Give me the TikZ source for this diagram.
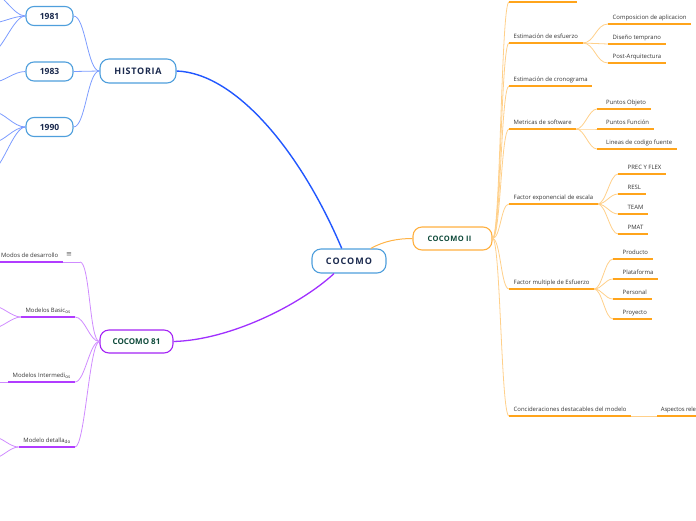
\documentclass[tikz,border=0pt]{standalone}
\usepackage{fontspec}
\setmainfont{Open Sans}
\newfontfamily\symfont{DejaVu Sans}
\definecolor{navy}{HTML}{1B2A4E}
\definecolor{greentxt}{HTML}{0E4A3A}
\definecolor{bborder}{HTML}{4F9FDC}
\definecolor{bmain}{HTML}{2157FF}
\definecolor{blight}{HTML}{7C9CFF}
\definecolor{pmain}{HTML}{A030FF}
\definecolor{pborder}{HTML}{A424F5}
\definecolor{pstrong}{HTML}{B13CFF}
\definecolor{plight}{HTML}{CF8BFF}
\definecolor{oborder}{HTML}{FFB040}
\definecolor{omain}{HTML}{FFB347}
\definecolor{ostrong}{HTML}{FFA41B}
\definecolor{olight}{HTML}{FFD08A}
\definecolor{txt}{HTML}{333333}
\newcommand\smallend[1]{{\fontsize{4.6}{5}\selectfont\raisebox{-1pt}{#1}}}
\begin{document}
\begin{tikzpicture}[x=1pt,y=-1pt,
  pill/.style={draw, fill=white, line width=1.1pt, rounded corners=9pt, inner sep=0pt},
  bluepill/.style={pill, draw=bborder, text=navy},
  leafR/.style={anchor=south west, inner xsep=4.5pt, inner ysep=2.8pt, text height=4.4pt, text depth=1.4pt, font=\fontsize{5.95}{6.5}\selectfont, text=txt},
  leafL/.style={leafR, anchor=south east},
  ostr/.style={draw=ostrong, line width=1.8pt},
  olig/.style={draw=olight, line width=0.8pt},
  pstr/.style={draw=pstrong, line width=1.8pt},
  plig/.style={draw=plight, line width=0.8pt},
  blig/.style={draw=blight, line width=0.8pt}
]
\useasboundingbox (0,0) rectangle (696,520);
\clip (0,0) rectangle (696,520);

% ---------- main nodes
\node[bluepill, minimum width=74pt, minimum height=24pt, font=\bfseries\fontsize{9}{10}\selectfont\addfontfeature{LetterSpace=11}] (c) at (349,261) {COCOMO};
\node[bluepill, minimum width=76pt, minimum height=24pt, font=\bfseries\fontsize{9}{10}\selectfont\addfontfeature{LetterSpace=8}] (h) at (138,71) {HISTORIA};
\node[bluepill, rounded corners=8pt, minimum width=47pt, minimum height=19pt, font=\bfseries\fontsize{8.5}{9}\selectfont] (y1) at (49.5,16) {1981};
\node[bluepill, rounded corners=8pt, minimum width=47pt, minimum height=19pt, font=\bfseries\fontsize{8.5}{9}\selectfont] (y2) at (49.5,71.5) {1983};
\node[bluepill, rounded corners=8pt, minimum width=47pt, minimum height=19pt, font=\bfseries\fontsize{8.5}{9}\selectfont] (y3) at (49.5,127) {1990};
\node[pill, draw=pborder, text=greentxt, minimum width=73pt, minimum height=23pt, font=\bfseries\fontsize{8}{9}\selectfont] (c81) at (136.5,341.5) {COCOMO 81};
\node[pill, draw=oborder, text=greentxt, minimum width=79pt, minimum height=23pt, font=\bfseries\fontsize{7.5}{9}\selectfont\addfontfeature{LetterSpace=5}] (c2) at (452.5,238.5) {COCOMO II\hspace*{6pt}};

% ---------- main connectors
\draw[bmain, line width=1.4pt] (h.east) .. controls (235,73) and (300,150) .. (c.120);
\draw[pmain, line width=1.3pt] (c.220) .. controls (300,305) and (230,340) .. (c81.east);
\draw[omain, line width=1pt] (c.30) .. controls (384,241) and (398,238.5) .. (c2.west);

% ---------- HISTORIA branch
\foreach \y in {y1,y2,y3}
  \draw[blig] (h.west) .. controls +(-12,0) and +(12,0) .. (\y.east);
\coordinate (y1a) at (-8,-8);
\coordinate (y1b) at (-8,23);
\coordinate (y1c) at (-8,52);
\coordinate (y2a) at (-6,82);
\coordinate (y3a) at (-6,112);
\coordinate (y3b) at (-6,142);
\coordinate (y3c) at (-8,170);
\foreach \e in {y1a,y1b,y1c}
  \draw[blig] (y1.west) .. controls +(-12,0) and +(10,0) .. (\e);
\draw[blig] (y2.west) .. controls +(-12,0) and +(10,0) .. (y2a);
\foreach \e in {y3a,y3b,y3c}
  \draw[blig] (y3.west) .. controls +(-12,0) and +(10,0) .. (\e);

% ---------- COCOMO 81 branch
\node[leafL] (m1) at (63,262) {Modos de desarrollo};
\node[leafL] (m2) at (75,317) {Modelos Basic\smallend{os}};
\node[leafL] (m3) at (75,382) {Modelos Intermedi\smallend{os}};
\node[leafL] (m4) at (75,447) {Modelo detalla\smallend{do}};
\node[font=\symfont\fontsize{7}{7}\selectfont, text=txt!80, inner sep=0pt] (ic) at (69,254.5) {≡};
\coordinate (m1e) at (80,262);
\draw[plig] (m1.south east) -- (m1e);
\foreach \n in {m1,m2,m3,m4}
  \draw[pstr] (\n.south west) -- (\n.south east);
\draw[plig] (c81.west) .. controls +(-10,0) and +(10,0) .. (m1e);
\foreach \n in {m2,m3,m4}
  \draw[plig] (c81.west) .. controls +(-10,0) and +(10,0) .. (\n.south east);
\coordinate (m2a) at (-6,306);
\coordinate (m2b) at (-6,328);
\coordinate (m3a) at (-12,382);
\coordinate (m4a) at (-6,437);
\coordinate (m4b) at (-6,458);
\foreach \e in {m2a,m2b}
  \draw[plig] (m2.south west) .. controls +(-9,0) and +(8,0) .. (\e);
\draw[plig] (m3.south west) -- (m3a);
\foreach \e in {m4a,m4b}
  \draw[plig] (m4.south west) .. controls +(-9,0) and +(8,0) .. (\e);

% ---------- COCOMO II branch
\node[leafR, minimum width=68pt] (e0) at (509,2) {};
\node[leafR] (e1) at (509,43) {Estimación de esfuerzo};
\node[leafR] (e11) at (608,24) {Composicion de aplicacion};
\node[leafR] (e12) at (608,44) {Diseño temprano};
\node[leafR] (e13) at (608,63) {Post-Arquitectura};
\node[leafR] (e2) at (509,86) {Estimación de cronograma};
\node[leafR] (e3) at (509,129) {Metricas de software};
\node[leafR] (e31) at (597,109) {\hspace*{4.5pt}Puntos Objeto};
\node[leafR] (e32) at (597,129) {\hspace*{4.5pt}Puntos Función};
\node[leafR] (e33) at (597,149) {\hspace*{4.5pt}Lineas de codigo fuente};
\node[leafR] (e4) at (509,204) {Factor exponencial de escala};
\node[leafR] (e41) at (618,174) {\hspace*{5pt}PREC Y FLEX};
\node[leafR] (e42) at (618,194) {\hspace*{5pt}RESL};
\node[leafR] (e43) at (618,214) {\hspace*{5pt}TEAM};
\node[leafR] (e44) at (618,234) {\hspace*{5pt}PMAT};
\node[leafR] (e5) at (509,289) {Factor multiple de Esfuerzo};
\node[leafR] (e51) at (613,259) {\hspace*{5pt}Producto};
\node[leafR] (e52) at (613,279) {\hspace*{5pt}Plataforma};
\node[leafR] (e53) at (613,299) {\hspace*{5pt}Personal};
\node[leafR] (e54) at (613,319) {\hspace*{5pt}Proyecto};
\node[leafR] (e6) at (509,416) {Concideraciones destacables del modelo};
\node[leafR, minimum width=45pt] (e61) at (657,416) {\hspace*{-2.5pt}\addfontfeature{LetterSpace=-3}Aspectos rele};

\foreach \n in {e0,e1,e2,e3,e4,e5,e6}
  \draw[olig] (c2.east) .. controls +(8,0) and +(-8,0) .. (\n.south west);
\foreach \n in {e11,e12,e13}
  \draw[olig] (e1.south east) .. controls +(12,0) and +(-12,0) .. (\n.south west);
\foreach \n in {e31,e32,e33}
  \draw[olig] (e3.south east) .. controls +(8,0) and +(-8,0) .. (\n.south west);
\foreach \n in {e41,e42,e43,e44}
  \draw[olig] (e4.south east) .. controls +(8,0) and +(-8,0) .. (\n.south west);
\foreach \n in {e51,e52,e53,e54}
  \draw[olig] (e5.south east) .. controls +(8,0) and +(-8,0) .. (\n.south west);
\draw[olig] (e6.south east) -- (e61.south west);
\foreach \n in {e0,e1,e11,e12,e13,e2,e3,e31,e32,e33,e4,e41,e42,e43,e44,e5,e51,e52,e53,e54,e6,e61}
  \draw[ostr] (\n.south west) -- (\n.south east);
\end{tikzpicture}
\end{document}
